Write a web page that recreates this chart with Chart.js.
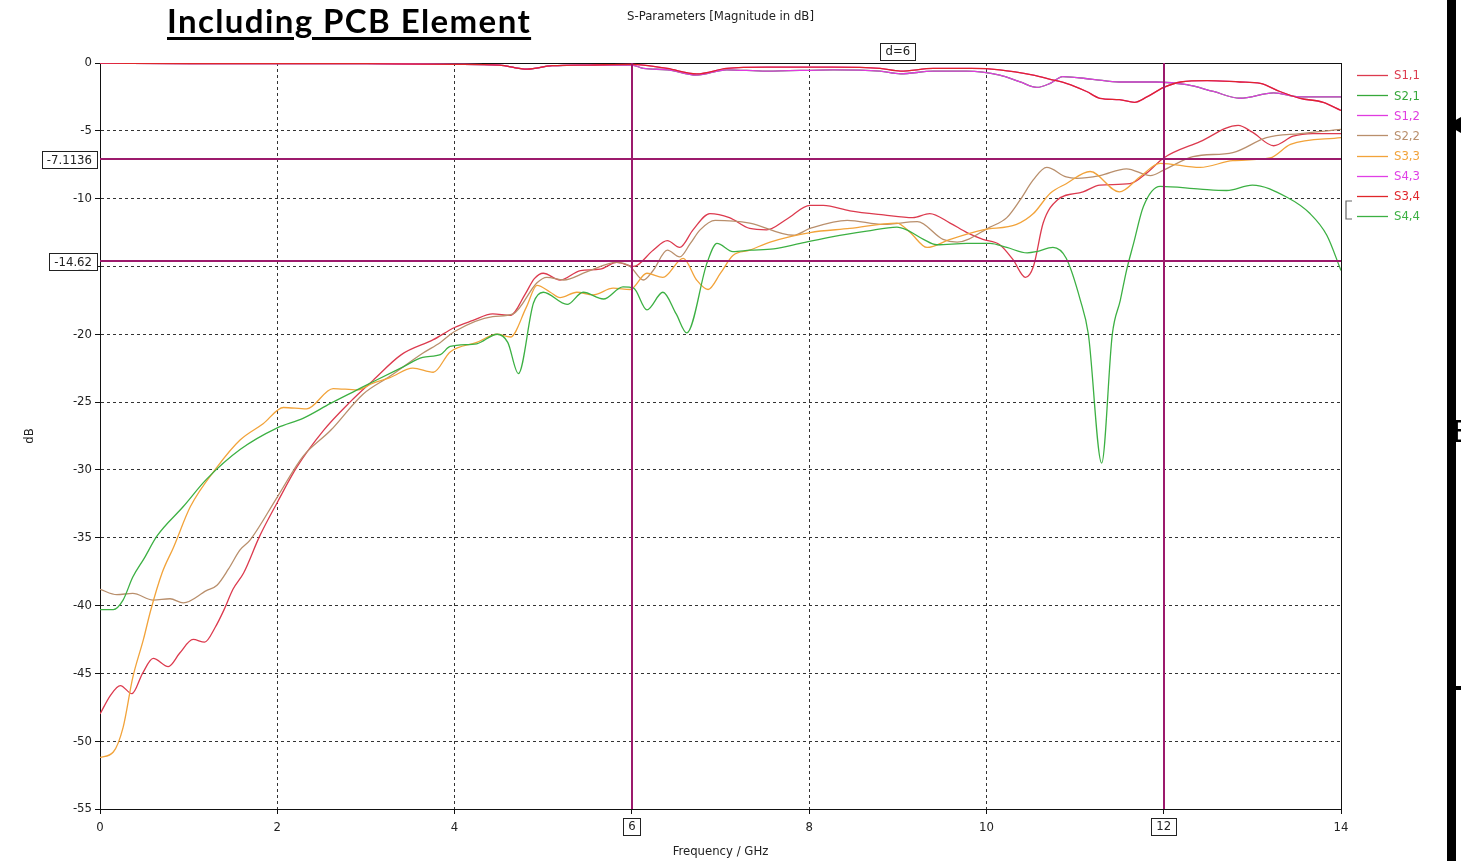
<!DOCTYPE html>
<html>
<head>
<meta charset="utf-8">
<title>S-Parameters</title>
<script src="https://cdn.jsdelivr.net/npm/chart.js@4.4.1/dist/chart.umd.min.js"></script>
<style>
    html, body { margin: 0; padding: 0; background: #fff; }
    #contenedor { position: relative; width: 1461px; height: 861px; overflow: hidden; }
    #grafico { position: absolute; left: 0; top: 0; }
    #titulo {
        position: absolute; left: 167px; top: 0px;
        font: bold 33px Lato, "Open Sans", sans-serif; letter-spacing: 1.4px;
        text-decoration: underline; text-underline-offset: 4px; color: #000;
        white-space: nowrap;
    }
    /* borde de la imagen vecina, cortado a la derecha */
    #barra { position: absolute; left: 1447px; top: 0; width: 9px; height: 861px; background: #000; }
    #barra-h { position: absolute; left: 1447px; top: 686px; width: 14px; height: 4px; background: #000; }
    #flecha {
        position: absolute; left: 1447px; top: 117px; width: 0; height: 0;
        border-top: 8px solid transparent; border-bottom: 8px solid transparent; border-right: 14px solid #000;
    }
    #letra { position: absolute; left: 1452px; top: 414px; font: 30px "DejaVu Sans", sans-serif; color: #000; }
</style>
</head>
<body>
<div id="contenedor">
    <canvas id="grafico" width="1461" height="861"></canvas>
    <div id="titulo">Including PCB Element</div>
    <div id="barra"></div>
    <div id="barra-h"></div>
    <div id="flecha"></div>
    <div id="letra">E</div>
</div>
<script>
'use strict';

// Ejes
const ticksX = [0, 2, 4, 6, 8, 10, 12, 14];
const ticksY = [0, -5, -10, -15, -20, -25, -30, -35, -40, -45, -50, -55];

// Marcadores (frecuencias en GHz y niveles en dB)
const marcadoresFreq = [6, 12];
const marcadoresNivel = [-7.1136, -14.62];

// S1,1
const s11Freq = [0, 0.12, 0.23, 0.36, 0.48, 0.6, 0.77, 0.9, 1.05, 1.18, 1.3, 1.4, 1.5, 1.62, 1.8,
    2.0, 2.22, 2.52, 2.82, 3.08, 3.4, 3.76, 4.0, 4.2, 4.43, 4.63, 4.8, 4.9, 5.0, 5.19,
    5.42, 5.64, 5.83, 6.02, 6.24, 6.4, 6.54, 6.69, 6.88, 7.1, 7.33, 7.52, 7.75, 8.01, 8.16,
    8.46, 8.84, 9.17, 9.36, 9.59, 9.78, 9.96, 10.15, 10.3, 10.44, 10.53, 10.64, 10.8, 11.09, 11.28,
    11.62, 11.81, 12.0, 12.41, 12.84, 13.0, 13.24, 13.46, 13.68, 14.0];
const s11Db = [-48.0, -46.6, -45.9, -46.5, -45.0, -43.9, -44.5, -43.5, -42.5, -42.7, -41.6, -40.3, -38.8, -37.6, -34.9,
    -32.4, -29.8, -27.1, -25.0, -23.4, -21.5, -20.4, -19.5, -19.0, -18.5, -18.6, -17.0, -15.9, -15.5, -16.0,
    -15.3, -15.2, -14.7, -15.0, -13.8, -13.1, -13.6, -12.3, -11.1, -11.4, -12.2, -12.3, -11.5, -10.5, -10.5,
    -10.9, -11.2, -11.4, -11.1, -11.8, -12.5, -13.0, -13.4, -14.5, -15.8, -15.0, -11.8, -10.1, -9.5, -9.0,
    -8.9, -8.1, -7.0, -5.8, -4.6, -5.1, -6.1, -5.4, -5.2, -5.2];

// S1,2 (y S2,1, que queda debajo)
const s12Freq = [0, 1, 2, 3, 4, 4.5, 4.82, 5.1, 5.5, 6.0, 6.13, 6.4, 6.73, 7.07, 7.52, 8.27, 8.8, 9.03, 9.4, 9.78,
    10.15, 10.38, 10.57, 10.72, 10.86, 11.2, 11.5, 11.92, 12.26, 12.56, 12.86, 13.24, 13.54, 14];
const s12Db = [0, -0.05, -0.05, -0.05, -0.1, -0.15, -0.45, -0.2, -0.15, -0.15, -0.4, -0.5, -0.9, -0.5, -0.6, -0.5, -0.6, -0.8, -0.6, -0.6,
    -0.9, -1.4, -1.8, -1.5, -1.0, -1.2, -1.4, -1.4, -1.6, -2.1, -2.6, -2.2, -2.5, -2.5];

// S2,2
const s22Freq = [0, 0.19, 0.37, 0.6, 0.79, 0.94, 1.2, 1.32, 1.45, 1.58, 1.69, 2.0, 2.29, 2.6, 2.97,
    3.27, 3.64, 3.84, 4.0, 4.43, 4.66, 4.93, 5.04, 5.23, 5.49, 5.83, 5.98, 6.13, 6.24, 6.4,
    6.54, 6.66, 6.77, 6.94, 7.33, 7.82, 8.01, 8.43, 8.84, 9.22, 9.51, 9.67, 10.04, 10.23, 10.38,
    10.53, 10.68, 10.9, 11.02, 11.28, 11.58, 11.85, 12.0, 12.33, 12.78, 13.16, 13.54, 14.0];
const s22Db = [-38.8, -39.2, -39.1, -39.6, -39.5, -39.8, -38.9, -38.5, -37.3, -35.9, -35.2, -32.0, -29.0, -27.1, -24.4,
    -23.1, -21.4, -20.6, -19.8, -18.7, -18.5, -16.2, -15.8, -16.0, -15.4, -14.7, -15.0, -16.0, -15.3, -13.8,
    -14.3, -13.3, -12.3, -11.6, -11.8, -12.7, -12.2, -11.6, -11.9, -11.7, -13.0, -13.2, -12.1, -11.4, -10.1,
    -8.6, -7.7, -8.4, -8.5, -8.3, -7.8, -8.3, -7.9, -6.9, -6.6, -5.5, -5.2, -4.9];

// S3,3
const s33Freq = [0, 0.15, 0.26, 0.37, 0.49, 0.57, 0.7, 0.83, 1.02, 1.32, 1.58, 1.84, 2.07, 2.33, 2.63,
    2.9, 3.08, 3.27, 3.53, 3.76, 3.95, 4.25, 4.48, 4.63, 4.81, 4.93, 5.08, 5.19, 5.38, 5.56,
    5.79, 5.98, 6.17, 6.35, 6.58, 6.73, 6.86, 7.0, 7.14, 7.33, 7.56, 8.01, 8.46, 8.99, 9.14,
    9.33, 9.59, 9.96, 10.34, 10.53, 10.72, 10.9, 11.17, 11.5, 11.73, 11.96, 12.41, 12.78, 13.2, 13.43, 14.0];
const s33Db = [-51.2, -50.8, -49.0, -45.3, -42.5, -40.4, -37.6, -35.7, -32.7, -29.8, -27.8, -26.6, -25.4, -25.5, -24.0,
    -24.1, -23.6, -23.2, -22.5, -22.8, -21.3, -20.6, -20.0, -20.2, -18.0, -16.4, -16.9, -17.3, -16.9, -17.1,
    -16.6, -16.7, -15.5, -15.8, -14.4, -16.0, -16.7, -15.5, -14.2, -13.8, -13.2, -12.5, -12.2, -11.8, -12.5,
    -13.6, -13.0, -12.3, -11.9, -11.1, -9.6, -8.9, -8.0, -9.5, -8.4, -7.4, -7.7, -7.2, -7.0, -6.0, -5.5];

// S3,4 (y S4,3, que queda debajo)
const s34Freq = [0, 1, 2, 3, 4, 4.5, 4.82, 5.1, 5.5, 6.0, 6.13, 6.4, 6.73, 7.07, 7.52, 8.27, 8.8, 9.03, 9.4, 9.83,
    10.15, 10.53, 10.72, 10.9, 11.13, 11.28, 11.5, 11.67, 11.81, 12.0, 12.19, 12.49, 12.86, 13.09, 13.31, 13.54, 13.8, 14];
const s34Db = [0, -0.05, -0.05, -0.05, -0.1, -0.15, -0.45, -0.2, -0.15, -0.1, -0.15, -0.4, -0.8, -0.4, -0.3, -0.3, -0.4, -0.6, -0.4, -0.4,
    -0.5, -0.9, -1.2, -1.5, -2.1, -2.6, -2.7, -2.9, -2.5, -1.8, -1.4, -1.3, -1.4, -1.5, -2.1, -2.6, -2.9, -3.5];

// S4,4
const s44Freq = [0, 0.15, 0.26, 0.37, 0.5, 0.64, 0.94, 1.2, 1.58, 2.0, 2.29, 2.6, 2.9, 3.08, 3.42,
    3.64, 3.84, 3.95, 4.25, 4.48, 4.6, 4.72, 4.89, 5.0, 5.27, 5.45, 5.68, 5.9, 6.02, 6.17,
    6.35, 6.5, 6.62, 6.85, 6.96, 7.14, 7.33, 7.6, 7.9, 8.27, 8.65, 8.99, 9.1, 9.29, 9.44,
    9.78, 10.04, 10.23, 10.46, 10.57, 10.75, 10.9, 11.06, 11.15, 11.3, 11.42, 11.51, 11.58, 11.66, 11.77,
    11.96, 12.41, 12.71, 13.0, 13.39, 13.65, 13.84, 14.0];
const s44Db = [-40.3, -40.3, -39.6, -37.9, -36.5, -34.9, -32.7, -30.7, -28.5, -26.9, -26.2, -25.1, -24.1, -23.5, -22.4,
    -21.7, -21.5, -20.9, -20.7, -20.0, -20.6, -22.9, -17.7, -16.9, -17.8, -16.9, -17.4, -16.5, -16.6, -18.2,
    -16.9, -18.5, -19.9, -14.7, -13.3, -13.9, -13.8, -13.7, -13.3, -12.8, -12.4, -12.1, -12.3, -13.0, -13.4,
    -13.3, -13.3, -13.6, -14.0, -13.9, -13.6, -14.4, -17.5, -20.0, -29.5, -20.0, -17.5, -15.3, -13.3, -10.6,
    -9.1, -9.3, -9.4, -9.0, -9.9, -11.1, -12.7, -15.3];

// Orden de la leyenda
const series = [
    { nombre: 'S1,1', freq: s11Freq, db: s11Db, color: '#dc3a4e' },
    { nombre: 'S2,1', freq: s12Freq, db: s12Db, color: '#36a83a' },
    { nombre: 'S1,2', freq: s12Freq, db: s12Db, color: '#e03be0' },
    { nombre: 'S2,2', freq: s22Freq, db: s22Db, color: '#b98f6c' },
    { nombre: 'S3,3', freq: s33Freq, db: s33Db, color: '#f2a33a' },
    { nombre: 'S4,3', freq: s34Freq, db: s34Db, color: '#e03fe6' },
    { nombre: 'S3,4', freq: s34Freq, db: s34Db, color: '#e0262a' },
    { nombre: 'S4,4', freq: s44Freq, db: s44Db, color: '#3cb043' }
];

const FUENTE = '"DejaVu Sans Condensed", "DejaVu Sans", sans-serif';
const COLOR_MARCADOR = '#9c1a6c';

function cajaTexto(ctx, texto, cx, cy, alinear) {
    ctx.font = '13px ' + FUENTE;
    const w = ctx.measureText(texto).width + 10;
    const h = 17;
    let x = cx - w / 2;
    if (alinear === 'derecha') x = cx - w;
    ctx.fillStyle = '#fff';
    ctx.fillRect(x, cy - h / 2, w, h);
    ctx.strokeStyle = '#222';
    ctx.lineWidth = 1;
    ctx.strokeRect(Math.round(x) + 0.5, Math.round(cy - h / 2) + 0.5, Math.round(w), h);
    ctx.fillStyle = '#222';
    ctx.textAlign = 'center';
    ctx.textBaseline = 'middle';
    ctx.fillText(texto, x + w / 2, cy + 1);
}

// Marco, marcadores, leyenda y rotulos
const extras = {
    id: 'extras',
    beforeDatasetsDraw(chart) {
        const { ctx, chartArea: a } = chart;
        ctx.save();
        ctx.strokeStyle = '#111';
        ctx.lineWidth = 1;
        ctx.strokeRect(a.left + 0.5, a.top + 0.5, a.right - a.left, a.bottom - a.top);
        ctx.restore();
    },
    afterDraw(chart) {
        const { ctx, chartArea: a, scales } = chart;
        ctx.save();

        // lineas de marcador
        ctx.strokeStyle = COLOR_MARCADOR;
        ctx.lineWidth = 2;
        marcadoresFreq.forEach(f => {
            const x = Math.round(scales.x.getPixelForValue(f));
            ctx.beginPath();
            ctx.moveTo(x, a.top);
            ctx.lineTo(x, a.bottom);
            ctx.stroke();
        });
        marcadoresNivel.forEach(v => {
            const y = Math.round(scales.y.getPixelForValue(v));
            ctx.beginPath();
            ctx.moveTo(a.left, y);
            ctx.lineTo(a.right, y);
            ctx.stroke();
        });

        // cajas de los marcadores
        marcadoresNivel.forEach(v => {
            cajaTexto(ctx, String(v), a.left - 3, scales.y.getPixelForValue(v), 'derecha');
        });
        marcadoresFreq.forEach(f => {
            cajaTexto(ctx, String(f), scales.x.getPixelForValue(f), a.bottom + 17);
        });
        const xMedio = scales.x.getPixelForValue((marcadoresFreq[0] + marcadoresFreq[1]) / 2);
        cajaTexto(ctx, 'd=' + (marcadoresFreq[1] - marcadoresFreq[0]), xMedio, a.top - 12);

        // leyenda
        const lx = a.right + 16;
        ctx.font = '13px ' + FUENTE;
        ctx.textAlign = 'left';
        ctx.textBaseline = 'middle';
        chart.data.datasets.forEach((ds, i) => {
            const y = a.top + 12 + i * 20.15;
            ctx.strokeStyle = ds.borderColor;
            ctx.lineWidth = 1.3;
            ctx.beginPath();
            ctx.moveTo(lx, Math.round(y) + 0.5);
            ctx.lineTo(lx + 31, Math.round(y) + 0.5);
            ctx.stroke();
            ctx.fillStyle = ds.borderColor;
            ctx.fillText(ds.label, lx + 37, y + 1);
        });
        // corchete junto a la leyenda
        ctx.strokeStyle = '#666';
        ctx.lineWidth = 1.2;
        ctx.beginPath();
        ctx.moveTo(a.right + 11, a.top + 138);
        ctx.lineTo(a.right + 5, a.top + 138);
        ctx.lineTo(a.right + 5, a.top + 156);
        ctx.lineTo(a.right + 11, a.top + 156);
        ctx.stroke();

        // titulos
        ctx.fillStyle = '#222';
        ctx.font = '13px ' + FUENTE;
        ctx.textAlign = 'center';
        ctx.textBaseline = 'middle';
        ctx.fillText('S-Parameters [Magnitude in dB]', (a.left + a.right) / 2, 17);
        ctx.fillText('Frequency / GHz', (a.left + a.right) / 2, 852);
        ctx.translate(30, (a.top + a.bottom) / 2);
        ctx.rotate(-Math.PI / 2);
        ctx.fillText('dB', 0, 0);
        ctx.restore();
    }
};

const datasets = series.map((s, i) => ({
    label: s.nombre,
    data: s.freq.map((f, k) => ({ x: f, y: s.db[k] })),
    borderColor: s.color,
    backgroundColor: s.color,
    borderWidth: 1.3,
    pointRadius: 0,
    fill: false,
    cubicInterpolationMode: 'monotone',
    order: -i
}));

const ejeComun = {
    grid: { color: '#333', lineWidth: 1, tickLength: 5, tickColor: '#111', tickBorderDash: [] },
    border: { color: '#111', width: 1, dash: [3, 3] },
    ticks: { color: '#222', font: { family: FUENTE, size: 13 } }
};

new Chart(document.getElementById('grafico'), {
    type: 'line',
    data: { datasets: datasets },
    options: {
        responsive: false,
        animation: false,
        events: [],
        layout: { padding: { top: 63, right: 120, left: 0, bottom: 0 } },
        plugins: { legend: { display: false }, tooltip: { enabled: false }, title: { display: false } },
        scales: {
            x: {
                type: 'linear', min: 0, max: 14,
                afterBuildTicks: ax => { ax.ticks = ticksX.map(v => ({ value: v })); },
                afterFit: ax => { ax.height = 52; },
                grid: ejeComun.grid, border: ejeComun.border,
                ticks: { ...ejeComun.ticks, padding: 6, maxRotation: 0 }
            },
            y: {
                type: 'linear', min: -55, max: 0,
                afterBuildTicks: ax => { ax.ticks = ticksY.map(v => ({ value: v })); },
                afterFit: ax => { ax.width = 100; },
                grid: ejeComun.grid, border: ejeComun.border,
                ticks: { ...ejeComun.ticks, padding: 3 }
            }
        }
    },
    plugins: [extras]
});
</script>
</body>
</html>
